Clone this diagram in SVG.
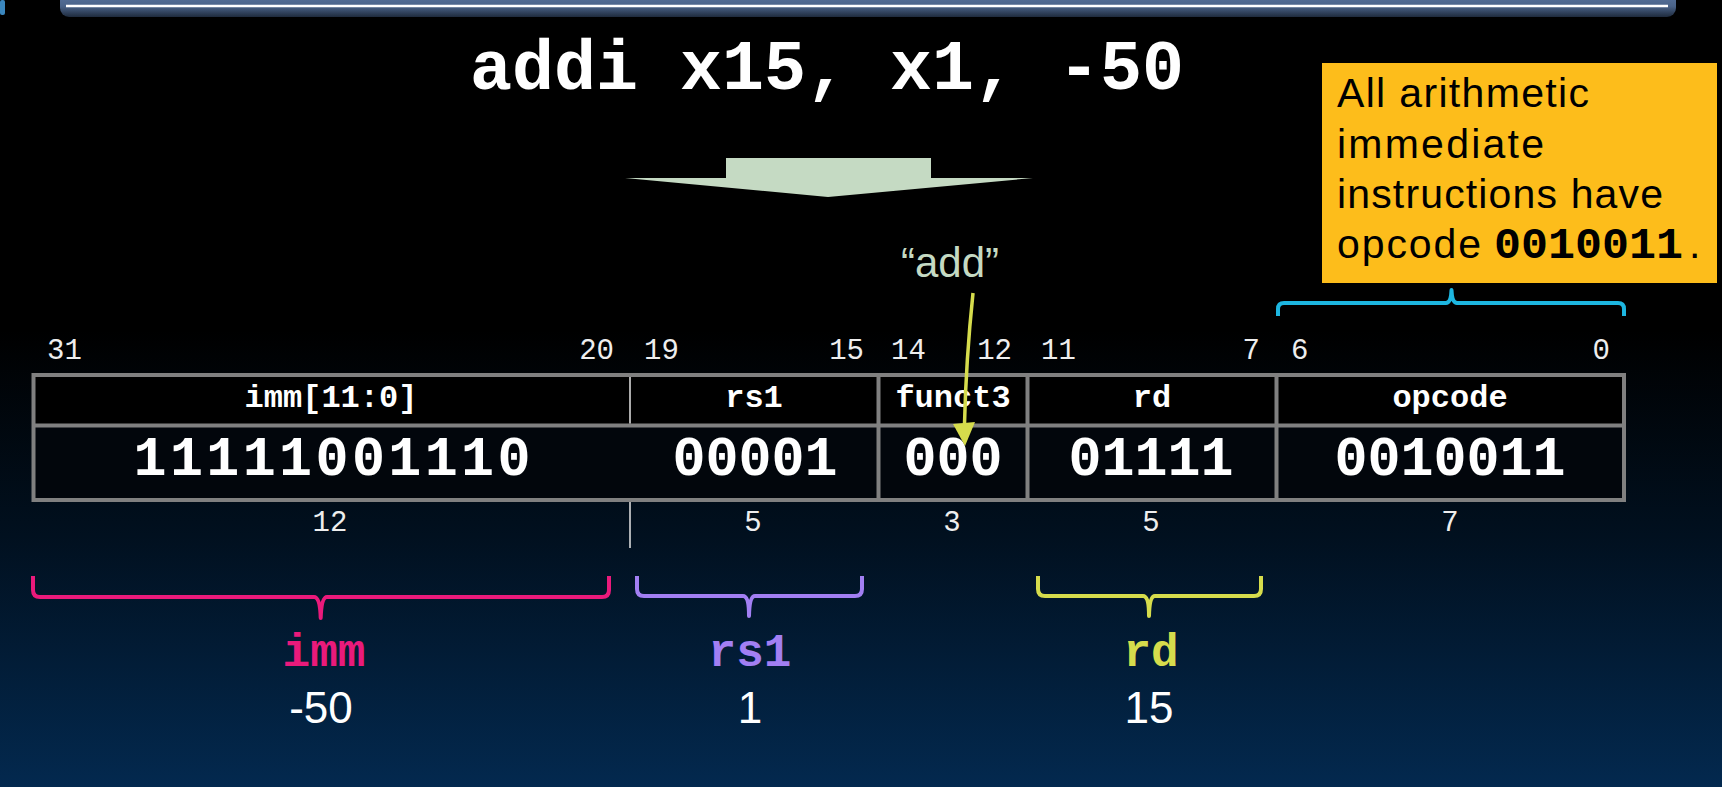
<svg xmlns="http://www.w3.org/2000/svg" width="1722" height="787" viewBox="0 0 1722 787">
<defs>
<linearGradient id="bg" x1="0" y1="0" x2="0" y2="1">
<stop offset="0" stop-color="#000000"/>
<stop offset="0.42" stop-color="#000000"/>
<stop offset="0.68" stop-color="#01101f"/>
<stop offset="1" stop-color="#03294f"/>
</linearGradient>
<linearGradient id="bar" x1="0" y1="0" x2="0" y2="1">
<stop offset="0" stop-color="#5d79a3"/>
<stop offset="0.6" stop-color="#4a6389"/>
<stop offset="1" stop-color="#1e2a3c"/>
</linearGradient>
<marker id="ah" viewBox="0 0 20 20" refX="10" refY="20" markerWidth="21" markerHeight="21" markerUnits="userSpaceOnUse" orient="auto-start-reverse">
<path d="M0,0 L20,0 L10,20 Z" fill="#d6dc4c" transform="rotate(0)"/>
</marker>
<style>
.mono{font-family:"Liberation Mono","Courier New",monospace}
.sans{font-family:"Liberation Sans",Arial,sans-serif}
.bitn{font-family:"Liberation Mono","Courier New",monospace;font-size:29px;fill:#eeeeee}
.hdr{font-family:"Liberation Mono","Courier New",monospace;font-size:32px;font-weight:bold;fill:#ffffff;text-anchor:middle}
.val{font-family:"Liberation Mono","Courier New",monospace;font-size:55px;font-weight:bold;fill:#ffffff;text-anchor:middle}
.cell{stroke:#808080;stroke-width:4;fill:none}
.brace{fill:none;stroke-width:4;stroke-linejoin:round;stroke-linecap:butt}
.flab{font-family:"Liberation Mono","Courier New",monospace;font-size:46px;font-weight:bold;text-anchor:middle}
.fval{font-family:"Liberation Sans",Arial,sans-serif;font-size:44px;fill:#ffffff;text-anchor:middle}
.call{font-family:"Liberation Sans",Arial,sans-serif;font-size:41px;fill:#000000}
</style>
</defs>
<rect x="0" y="0" width="1722" height="787" fill="url(#bg)"/>

<g id="topbar">
<rect x="0" y="0" width="5" height="15" rx="2" fill="#3a86bd"/>
<rect x="60" y="-10" width="1616" height="27" rx="9" fill="url(#bar)"/>
<line x1="66" y1="6" x2="1668" y2="6" stroke="#ffffff" stroke-width="2.5"/>
</g>

<g id="title">
<text x="827" y="89" class="mono" font-size="70" font-weight="bold" fill="#ffffff" text-anchor="middle">addi x15, x1, -50</text>
</g>

<g id="big-arrow">
<polygon points="726,158 931,158 931,178 1033,178 828,197 625,178 726,178" fill="#c5dac3"/>
</g>

<g id="callout">
<rect x="1322" y="63" width="395" height="220" fill="#fdbd1b"/>
<text x="1337" y="107" class="call" textLength="252" lengthAdjust="spacing">All arithmetic</text>
<text x="1337" y="158" class="call" textLength="207" lengthAdjust="spacing">immediate</text>
<text x="1337" y="208" class="call" textLength="326" lengthAdjust="spacing">instructions have</text>
<text x="1337" y="258" class="call" textLength="144" lengthAdjust="spacing">opcode</text>
<text x="1494" y="258" class="mono" font-size="45" font-weight="bold" fill="#000000">0010011</text>
<text x="1689" y="258" class="call">.</text>
</g>

<g id="add-label">
<text x="950" y="277" class="sans" font-size="42" fill="#c5dac3" text-anchor="middle">“add”</text>
</g>

<g id="bit-numbers">
<text x="47" y="359" class="bitn">31</text>
<text x="614" y="359" class="bitn" text-anchor="end">20</text>
<text x="644" y="359" class="bitn">19</text>
<text x="864" y="359" class="bitn" text-anchor="end">15</text>
<text x="891" y="359" class="bitn">14</text>
<text x="1012" y="359" class="bitn" text-anchor="end">12</text>
<text x="1041" y="359" class="bitn">11</text>
<text x="1260" y="359" class="bitn" text-anchor="end">7</text>
<text x="1291" y="359" class="bitn">6</text>
<text x="1610" y="359" class="bitn" text-anchor="end">0</text>
</g>

<g id="table">
<rect x="33.5" y="375" width="1590.5" height="125" fill="#000000"/>
<rect x="35" y="427" width="1587" height="71" fill="#02060c"/>
<rect x="33.5" y="375" width="1590.5" height="125" class="cell"/>
<line x1="33.5" y1="425.5" x2="1624" y2="425.5" class="cell"/>
<line x1="630" y1="377" x2="630" y2="423.5" stroke="#e6e6e6" stroke-width="1.5"/>
<line x1="630" y1="502" x2="630" y2="548" stroke="#e6e6e6" stroke-width="1.5"/>
<line x1="878.5" y1="375" x2="878.5" y2="500" class="cell"/>
<line x1="1027.5" y1="375" x2="1027.5" y2="500" class="cell"/>
<line x1="1276.5" y1="375" x2="1276.5" y2="500" class="cell"/>
</g>

<g id="field-imm">
<text x="331" y="407" class="hdr">imm[11:0]</text>
<text x="332" y="475" class="val" textLength="397" lengthAdjust="spacing">11111001110</text>
<text x="330" y="531" class="bitn" text-anchor="middle">12</text>
</g>
<g id="field-rs1">
<text x="754" y="407" class="hdr">rs1</text>
<text x="755" y="475" class="val">00001</text>
<text x="753" y="531" class="bitn" text-anchor="middle">5</text>
</g>
<g id="field-funct3">
<text x="953" y="407" class="hdr">funct3</text>
<text x="953" y="475" class="val">000</text>
<text x="952" y="531" class="bitn" text-anchor="middle">3</text>
</g>
<g id="field-rd">
<text x="1152" y="407" class="hdr">rd</text>
<text x="1151" y="475" class="val">01111</text>
<text x="1151" y="531" class="bitn" text-anchor="middle">5</text>
</g>
<g id="field-opcode">
<text x="1450" y="407" class="hdr">opcode</text>
<text x="1450" y="475" class="val">0010011</text>
<text x="1450" y="531" class="bitn" text-anchor="middle">7</text>
</g>

<g id="connectors">
<path d="M973,293 Q966,360 964.5,424" fill="none" stroke="#d6dc4c" stroke-width="3.5"/>
<polygon points="953,424 975,422 965,446" fill="#d6dc4c"/>
<path class="brace" stroke="#1db6e0" d="M1278,316 L1278,309 Q1278,303 1284,303 L1446,303 Q1451,303 1451.5,290 Q1452,303 1457,303 L1618,303 Q1624,303 1624,309 L1624,316"/>
<path class="brace" stroke="#ea1a7b" d="M33,576 L33,590 Q33,597 40,597 L314,597 Q320,597 320.7,618 Q321.5,597 327,597 L602,597 Q609,597 609,590 L609,576"/>
<path class="brace" stroke="#a27ff3" d="M637,576 L637,589 Q637,596 644,596 L743,596 Q749,596 749,616 Q749.5,596 755,596 L855,596 Q862,596 862,589 L862,576"/>
<path class="brace" stroke="#d6dc4c" d="M1038,576 L1038,589 Q1038,596 1045,596 L1143,596 Q1149,596 1149,616 Q1149.5,596 1155,596 L1254,596 Q1261,596 1261,589 L1261,576"/>
</g>

<g id="label-imm">
<text x="324" y="666" class="flab" fill="#ea1a7b">imm</text>
<text x="321" y="723" class="fval">-50</text>
</g>
<g id="label-rs1">
<text x="750" y="666" class="flab" fill="#a27ff3">rs1</text>
<text x="750" y="723" class="fval">1</text>
</g>
<g id="label-rd">
<text x="1151" y="666" class="flab" fill="#d6dc4c">rd</text>
<text x="1149" y="723" class="fval">15</text>
</g>
</svg>
